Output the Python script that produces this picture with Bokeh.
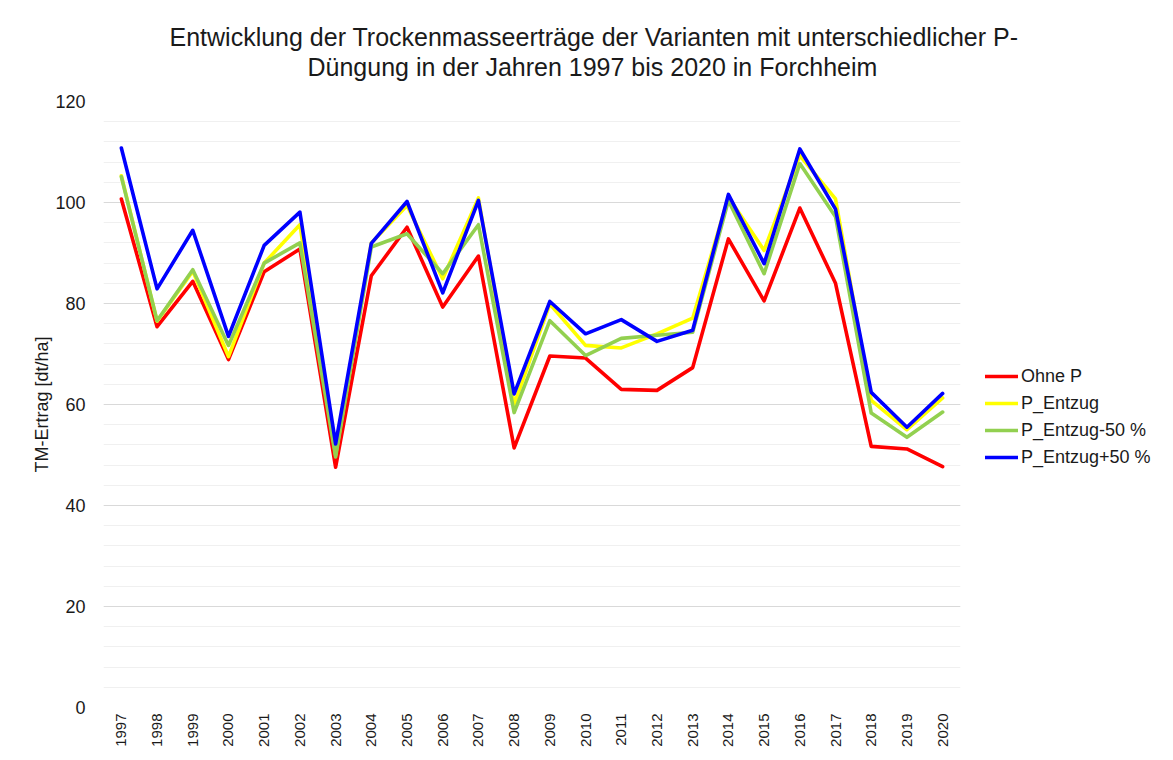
import math
from bokeh.plotting import figure
from bokeh.models import (ColumnDataSource, Range1d, FactorRange, SingleIntervalTicker,
                          Legend, LegendItem, Title)
from bokeh.embed import file_html
from bokeh.resources import INLINE

years = [str(y) for y in range(1997, 2021)]

ohne_p = [100.7, 75.4, 84.4, 68.9, 86.3, 90.8, 47.6, 85.5, 95.1, 79.3, 89.4, 51.4,
          69.6, 69.2, 63.0, 62.8, 67.3, 92.8, 80.5, 98.9, 84.0, 51.7, 51.2, 47.7]
p_entzug = [105.3, 76.5, 86.4, 69.5, 88.0, 95.6, 50.0, 92.0, 99.4, 84.9, 100.9, 60.0,
            79.9, 71.7, 71.2, 74.0, 77.1, 101.1, 90.5, 109.3, 100.7, 60.8, 55.0, 61.3]
p_entzug_m50 = [105.1, 76.6, 86.7, 71.7, 88.0, 92.0, 49.6, 91.2, 93.8, 85.9, 95.6, 58.4,
                76.6, 69.7, 73.1, 73.7, 74.3, 100.4, 85.9, 107.7, 97.2, 58.3, 53.5, 58.5]
p_entzug_p50 = [110.8, 82.9, 94.5, 73.5, 91.5, 98.1, 52.2, 91.9, 100.2, 82.1, 100.4, 62.1,
                80.4, 74.0, 76.8, 72.5, 74.7, 101.6, 87.9, 110.6, 98.7, 62.4, 55.5, 62.2]

series_names = ["Ohne P", "P_Entzug", "P_Entzug-50 %", "P_Entzug+50 %"]
series_vals = [ohne_p, p_entzug, p_entzug_m50, p_entzug_p50]
colors = ["#FF0000", "#FFFF00", "#92D050", "#0000FF"]

title_lines = ["Entwicklung der Trockenmasseerträge der Varianten mit unterschiedlicher P-",
               "Düngung in der Jahren 1997 bis 2020 in Forchheim"]

FONT = "Liberation Sans"
TXT = "#1a1a1a"

p = figure(frame_width=857, frame_height=606, x_range=FactorRange(*years), y_range=Range1d(0, 120),
           output_backend="svg", toolbar_location=None,
           min_border_left=103, min_border_right=150, min_border_top=101, min_border_bottom=45)
p.outline_line_color = None
p.background_fill_color = "white"
p.border_fill_color = "white"

src = ColumnDataSource(dict(year=years, **{f"s{i}": v for i, v in enumerate(series_vals)}))
renderers = []
for i, (name, col) in enumerate(zip(series_names, colors)):
    r = p.line(x="year", y=f"s{i}", source=src, line_color=col, line_width=3.6,
               line_join="round", line_cap="round")
    renderers.append(r)

# axes
p.yaxis.ticker = SingleIntervalTicker(interval=20, num_minor_ticks=5)
p.yaxis.axis_line_color = None
p.yaxis.major_tick_line_color = None
p.yaxis.minor_tick_line_color = None
p.yaxis.major_label_text_font = FONT
p.yaxis.major_label_text_font_size = "18px"
p.yaxis.major_label_text_color = TXT
p.yaxis.major_label_standoff = 12
p.yaxis.axis_label = "TM-Ertrag [dt/ha]"
p.yaxis.axis_label_text_font = FONT
p.yaxis.axis_label_text_font_size = "18px"
p.yaxis.axis_label_text_font_style = "normal"
p.yaxis.axis_label_text_color = TXT
p.yaxis.axis_label_standoff = 0

p.xaxis.axis_line_color = None
p.xaxis.major_tick_line_color = None
p.xaxis.minor_tick_line_color = None
p.xaxis.major_label_orientation = math.pi / 2
p.xaxis.major_label_text_font = FONT
p.xaxis.major_label_text_font_size = "15px"
p.xaxis.major_label_text_color = TXT
p.xaxis.major_label_standoff = 0

p.xgrid.grid_line_color = None
p.ygrid.grid_line_color = "#d9d9d9"
p.ygrid.grid_line_width = 1.2
p.ygrid.minor_grid_line_color = "#f0f0f0"
p.ygrid.minor_grid_line_width = 1.2

legend = Legend(items=[LegendItem(label=n, renderers=[r]) for n, r in zip(series_names, renderers)],
                location=(25, 238), border_line_color=None, background_fill_alpha=0,
                label_text_font=FONT, label_text_font_size="18px", label_text_color=TXT,
                glyph_width=33, glyph_height=24, label_standoff=3, spacing=3,
                margin=24, padding=10)
p.add_layout(legend, "right")

# title: outermost line is the plot's own title
p.title.text = title_lines[0]
p.title.align = "left"
p.title.offset = 66
p.title.text_font = FONT
p.title.text_font_size = "25px"
p.title.text_font_style = "normal"
p.title.text_color = TXT
p.title.standoff = 0

spacer = Title(text=" ", text_font_size="1px", standoff=18)
p.add_layout(spacer, "above")
t2 = Title(text=title_lines[1], align="left", offset=204, text_font=FONT, text_font_size="25px",
           text_font_style="normal", text_color=TXT, standoff=0)
p.add_layout(t2, "above")

open("out.html", "w").write(file_html(p, INLINE))
